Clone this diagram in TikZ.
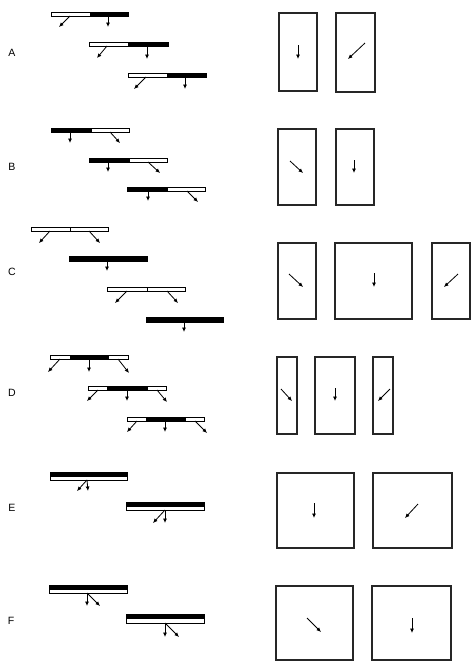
\documentclass[tikz,border=0pt]{standalone}
\usepackage{fontspec}
\setmainfont{Liberation Sans}
\usepackage{tikz}
\usetikzlibrary{arrows.meta}
\tikzset{
  whitebar/.style={draw=black, fill=white, line width=0.65pt},
  blackbar/.style={draw=black, fill=black, line width=0.65pt},
  divider/.style={draw=black, line width=0.65pt},
  cell/.style={draw=black!85, line width=1.1pt},
  vec/.style={-{Latex[length=3.8pt,width=3.4pt]}, line width=0.7pt},
  rowlabel/.style={font=\fontsize{9}{10}\selectfont, inner sep=0pt}
}
\begin{document}
\begin{tikzpicture}[x=0.03cm, y=-0.03cm]
  \useasboundingbox (0,0) rectangle (471,662);

  % Row labels
  \node[rowlabel] (labA) at (12,53) {A};
  \node[rowlabel] (labB) at (12,167) {B};
  \node[rowlabel] (labC) at (12,272) {C};
  \node[rowlabel] (labD) at (12,393) {D};
  \node[rowlabel] (labE) at (12,508) {E};
  \node[rowlabel] (labF) at (11,621) {F};

  % Row A: bars
  \draw[whitebar] (51,12) rectangle (90,16);
  \draw[blackbar] (90,12) rectangle (128,16);
  \draw[vec] (70,16) -- (59,27);
  \draw[vec] (108,16) -- (108,27);
  \draw[whitebar] (89,42) rectangle (128,46);
  \draw[blackbar] (128,42) rectangle (168,46);
  \draw[vec] (107,46) -- (97,58);
  \draw[vec] (147,46) -- (147,59);
  \draw[whitebar] (128,73) rectangle (167,77);
  \draw[blackbar] (167,73) rectangle (206,77);
  \draw[vec] (146,77) -- (134,89);
  \draw[vec] (185,77) -- (185,89);

  % Row B: bars
  \draw[blackbar] (51,128) rectangle (91,132);
  \draw[whitebar] (91,128) rectangle (129,132);
  \draw[vec] (70,132) -- (70,143);
  \draw[vec] (110,132) -- (120,143);
  \draw[blackbar] (89,158) rectangle (129,162);
  \draw[whitebar] (129,158) rectangle (167,162);
  \draw[vec] (108,162) -- (108,172);
  \draw[vec] (148,162) -- (160,173);
  \draw[blackbar] (127,187) rectangle (167,191);
  \draw[whitebar] (167,187) rectangle (205,191);
  \draw[vec] (148,191) -- (148,201);
  \draw[vec] (187,191) -- (198,202);

  % Row C: bars
  \draw[whitebar] (31,227) rectangle (108,231);
  \draw[divider] (70,227) -- (70,231);
  \draw[vec] (50,231) -- (39,243);
  \draw[vec] (89,231) -- (100,243);
  \draw[blackbar] (69,256) rectangle (147,261);
  \draw[vec] (107,261) -- (107,271);
  \draw[whitebar] (107,287) rectangle (185,291);
  \draw[divider] (147,287) -- (147,291);
  \draw[vec] (127,291) -- (115,303);
  \draw[vec] (167,291) -- (178,303);
  \draw[blackbar] (146,317) rectangle (223,322);
  \draw[vec] (184,322) -- (184,332);

  % Row D: bars
  \draw[whitebar] (50,355) rectangle (128,359);
  \draw[blackbar] (70,355) rectangle (108,359);
  \draw[vec] (60,359) -- (48,372);
  \draw[vec] (89,359) -- (89,372);
  \draw[vec] (118,359) -- (129,373);
  \draw[whitebar] (88,386) rectangle (166,390);
  \draw[blackbar] (107,386) rectangle (147,390);
  \draw[vec] (98,390) -- (87,401);
  \draw[vec] (127,390) -- (127,401);
  \draw[vec] (157,390) -- (167,402);
  \draw[whitebar] (127,417) rectangle (204,421);
  \draw[blackbar] (146,417) rectangle (185,421);
  \draw[vec] (137,421) -- (127,432);
  \draw[vec] (165,421) -- (165,432);
  \draw[vec] (195,421) -- (207,433);

  % Row E: double bars
  \draw[blackbar] (50,472) rectangle (127,476);
  \draw[whitebar] (50,476) rectangle (127,480);
  \draw[vec] (87,480) -- (77,491);
  \draw[vec] (87,480) -- (88,491);
  \draw[blackbar] (126,502) rectangle (204,506);
  \draw[whitebar] (126,506) rectangle (204,510);
  \draw[vec] (165,510) -- (153,523);
  \draw[vec] (165,510) -- (165,523);

  % Row F: double bars
  \draw[blackbar] (49,585) rectangle (127,589);
  \draw[whitebar] (49,589) rectangle (127,593);
  \draw[vec] (87,593) -- (87,606);
  \draw[vec] (87,593) -- (100,606);
  \draw[blackbar] (126,614) rectangle (204,618);
  \draw[whitebar] (126,618) rectangle (204,623);
  \draw[vec] (165,623) -- (165,637);
  \draw[vec] (165,623) -- (179,637);

  % Right side: cells
  \draw[cell] (279,13) rectangle (317,91);
  \draw[vec] (298,45) -- (298,59);
  \draw[cell] (336,13) rectangle (375,92);
  \draw[vec] (365,43) -- (348,59);

  \draw[cell] (278,129) rectangle (316,205);
  \draw[vec] (290,161) -- (303,173);
  \draw[cell] (336,129) rectangle (374,205);
  \draw[vec] (354,160) -- (354,173);

  \draw[cell] (278,243) rectangle (316,319);
  \draw[vec] (289,274) -- (303,287);
  \draw[cell] (335,243) rectangle (412,319);
  \draw[vec] (374,273) -- (374,287);
  \draw[cell] (432,243) rectangle (470,319);
  \draw[vec] (458,274) -- (444,287);

  \draw[cell] (277,357) rectangle (297,434);
  \draw[vec] (281,389) -- (292,401);
  \draw[cell] (315,357) rectangle (355,434);
  \draw[vec] (335,388) -- (335,401);
  \draw[cell] (373,357) rectangle (393,434);
  \draw[vec] (390,389) -- (378,401);

  \draw[cell] (277,473) rectangle (354,548);
  \draw[vec] (314,503) -- (314,518);
  \draw[cell] (373,473) rectangle (452,548);
  \draw[vec] (418,504) -- (405,518);

  \draw[cell] (276,586) rectangle (353,660);
  \draw[vec] (307,618) -- (321,632);
  \draw[cell] (372,586) rectangle (451,660);
  \draw[vec] (412,618) -- (412,633);
\end{tikzpicture}
\end{document}
